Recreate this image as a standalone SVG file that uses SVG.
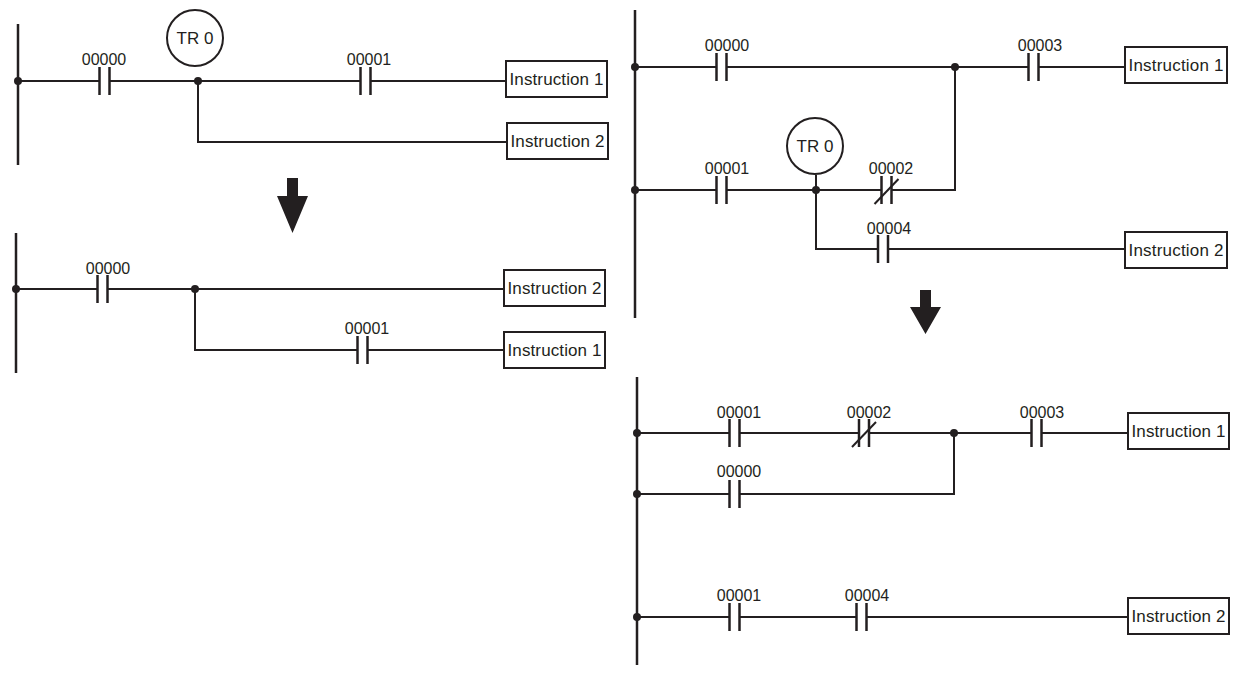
<svg xmlns="http://www.w3.org/2000/svg" width="1237" height="673" viewBox="0 0 1237 673">
<style>
.w{stroke:#231f20;stroke-width:2;fill:none}
.r{stroke:#231f20;stroke-width:2.5;fill:none}
.p{stroke:#231f20;stroke-width:2.5}
.d{fill:#231f20}
.b{stroke:#231f20;stroke-width:2;fill:#fff}
text{font-family:"Liberation Sans",Arial,sans-serif;fill:#231f20}
.l{font-size:16px;text-anchor:middle}
.t{font-size:17px;text-anchor:middle}
</style>
<defs>
<g id="no"><line class="p" x1="-5" y1="-14" x2="-5" y2="14"/><line class="p" x1="5" y1="-14" x2="5" y2="14"/></g>
<g id="nc"><use href="#no"/><line class="w" x1="-12" y1="14" x2="12" y2="-11"/></g>
</defs>
<g id="connectors">
<line class="r" x1="18" y1="24" x2="18" y2="165"/>
<polyline class="w" points="18,81 99,81"/><polyline class="w" points="110,81 360,81"/><polyline class="w" points="371,81 506,81"/>
<polyline class="w" points="198,81 198,142 507,142"/>
<circle class="d" cx="18" cy="81" r="4"/><circle class="d" cx="198" cy="81" r="4"/>
<path class="d" d="M287,178 H298 V196 H308 L292.5,233 L277,196 H287 Z"/>
<line class="r" x1="16" y1="233" x2="16" y2="373"/>
<polyline class="w" points="16,289 97,289"/><polyline class="w" points="108,289 504,289"/>
<polyline class="w" points="195,289 195,350 357,350"/><polyline class="w" points="368,350 504,350"/>
<circle class="d" cx="16" cy="289" r="4"/><circle class="d" cx="195" cy="289" r="4"/>
<line class="r" x1="635" y1="10" x2="635" y2="318"/>
<polyline class="w" points="635,67 716,67"/><polyline class="w" points="727,67 1028,67"/><polyline class="w" points="1039,67 1125,67"/>
<polyline class="w" points="635,190 716,190"/><polyline class="w" points="727,190 881,190"/><polyline class="w" points="892,190 955,190 955,67"/>
<polyline class="w" points="816,190 816,249 877,249"/><polyline class="w" points="889,249 1125,249"/>
<circle class="d" cx="635" cy="67" r="4"/><circle class="d" cx="955" cy="67" r="4"/><circle class="d" cx="635" cy="190" r="4"/><circle class="d" cx="816" cy="190" r="4"/>
<line class="w" x1="816" y1="175" x2="816" y2="190"/>
<path class="d" d="M920,290 H931 V307 H941 L925.5,334 L910,307 H920 Z"/>
<line class="r" x1="637" y1="377" x2="637" y2="665"/>
<polyline class="w" points="637,433 729,433"/><polyline class="w" points="740,433 858,433"/><polyline class="w" points="870,433 1031,433"/><polyline class="w" points="1042,433 1128,433"/>
<polyline class="w" points="637,494 729,494"/><polyline class="w" points="740,494 954,494 954,433"/>
<polyline class="w" points="637,617 729,617"/><polyline class="w" points="740,617 856,617"/><polyline class="w" points="867,617 1128,617"/>
<circle class="d" cx="637" cy="433" r="4"/><circle class="d" cx="954" cy="433" r="4"/><circle class="d" cx="637" cy="494" r="4"/><circle class="d" cx="637" cy="617" r="4"/>
</g>
<g id="c1"><use href="#no" x="104.5" y="81"/><text class="l" x="104" y="65">00000</text></g>
<g id="tr1"><circle class="b" cx="195" cy="38" r="28"/><text class="t" x="195" y="44">TR 0</text></g>
<g id="c2"><use href="#no" x="365.5" y="81"/><text class="l" x="369" y="65">00001</text></g>
<g id="i1"><rect class="b" x="506" y="61" width="101" height="36"/><text class="t" x="556.5" y="85" textLength="94">Instruction 1</text></g>
<g id="i2"><rect class="b" x="507" y="123" width="101" height="36"/><text class="t" x="557.5" y="147" textLength="94">Instruction 2</text></g>
<g id="c3"><use href="#no" x="102.5" y="289"/><text class="l" x="108" y="274">00000</text></g>
<g id="i3"><rect class="b" x="504" y="270" width="101" height="36"/><text class="t" x="554.5" y="294" textLength="94">Instruction 2</text></g>
<g id="c4"><use href="#no" x="362.5" y="350"/><text class="l" x="367" y="334">00001</text></g>
<g id="i4"><rect class="b" x="504" y="332" width="101" height="36"/><text class="t" x="554.5" y="356" textLength="94">Instruction 1</text></g>
<g id="c5"><use href="#no" x="721.5" y="67"/><text class="l" x="727" y="51">00000</text></g>
<g id="c6"><use href="#no" x="1033.5" y="67"/><text class="l" x="1040" y="51">00003</text></g>
<g id="i5"><rect class="b" x="1125" y="47" width="102" height="36"/><text class="t" x="1176" y="71" textLength="95">Instruction 1</text></g>
<g id="c7"><use href="#no" x="721.5" y="190"/><text class="l" x="727" y="174">00001</text></g>
<g id="tr2"><circle class="b" cx="815" cy="146" r="28"/><text class="t" x="815" y="152">TR 0</text></g>
<g id="c8"><use href="#nc" x="886.5" y="190"/><text class="l" x="891" y="174">00002</text></g>
<g id="c9"><use href="#no" x="883" y="249"/><text class="l" x="889" y="234">00004</text></g>
<g id="i6"><rect class="b" x="1125" y="232" width="102" height="36"/><text class="t" x="1176" y="256" textLength="95">Instruction 2</text></g>
<g id="c10"><use href="#no" x="734.5" y="433"/><text class="l" x="739" y="418">00001</text></g>
<g id="c11"><use href="#nc" x="864" y="433"/><text class="l" x="869" y="418">00002</text></g>
<g id="c12"><use href="#no" x="1036.5" y="433"/><text class="l" x="1042" y="418">00003</text></g>
<g id="i7"><rect class="b" x="1128" y="413" width="101" height="36"/><text class="t" x="1178.5" y="437" textLength="94">Instruction 1</text></g>
<g id="c13"><use href="#no" x="734.5" y="494"/><text class="l" x="739" y="477">00000</text></g>
<g id="c14"><use href="#no" x="734.5" y="617"/><text class="l" x="739" y="601">00001</text></g>
<g id="c15"><use href="#no" x="861.5" y="617"/><text class="l" x="867" y="601">00004</text></g>
<g id="i8"><rect class="b" x="1128" y="598" width="101" height="36"/><text class="t" x="1178.5" y="622" textLength="94">Instruction 2</text></g>
</svg>
